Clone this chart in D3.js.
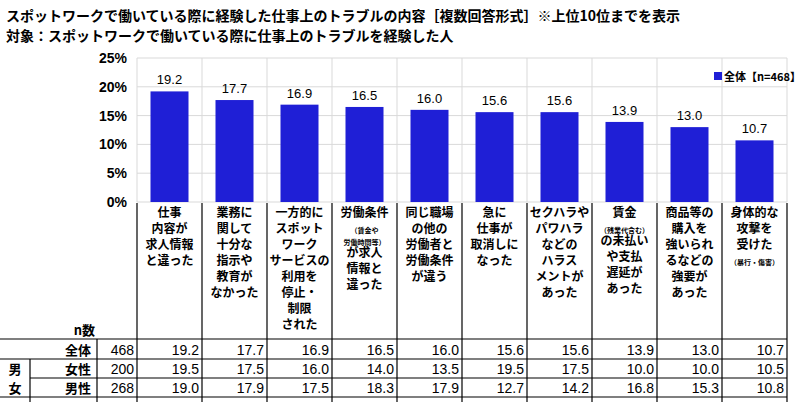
<!DOCTYPE html><html><head><meta charset="utf-8"><script src="https://d3js.org/d3.v7.min.js"></script>
<style>body{margin:0;background:#fff}text{font-family:"Noto Sans CJK JP",sans-serif;font-weight:bold}</style></head><body>
<script>
const categories=[["仕事","内容が","求人情報","と違った"],["業務に","関して","十分な","指示や","教育が","なかった"],["一方的に","スポット","ワーク","サービスの","利用を","停止・","制限","された"],["労働条件","(s)（賃金や","(s)労働時間等）","が求人","情報と","違った"],["同じ職場","の他の","労働者と","労働条件","が違う"],["急に","仕事が","取消しに","なった"],["セクハラや","パワハラ","などの","ハラス","メントが","あった"],["賃金","(s)（残業代含む）","の未払い","や支払","遅延が","あった"],["商品等の","購入を","強いられ","るなどの","強要が","あった"],["身体的な","攻撃を","受けた","(s)（暴行・傷害）"]];
const total=[19.2,17.7,16.9,16.5,16.0,15.6,15.6,13.9,13.0,10.7];
const female=[19.5,17.5,16.0,14.0,13.5,19.5,17.5,10.0,10.0,10.5];
const male=[19.0,17.9,17.5,18.3,17.9,12.7,14.2,16.8,15.3,10.8];
const rowLabels=["全体","女性","男性"], rowN=[468,200,268];
const yTicks=[0,5,10,15,20,25];
const svg=d3.select("body").append("svg").attr("width",800).attr("height",402);
svg.append("text").attr("x",6).attr("y",21).attr("font-size",14).text("スポットワークで働いている際に経験した仕事上のトラブルの内容［複数回答形式］※上位10位までを表示");
svg.append("text").attr("x",6).attr("y",41).attr("font-size",14).text("対象：スポットワークで働いている際に仕事上のトラブルを経験した人");
const x=d3.scaleBand().domain(d3.range(10)).range([137,787]);
const y=d3.scaleLinear().domain([0,25]).range([202,58]);
svg.append("g").selectAll("line").data(yTicks).join("line").attr("x1",137).attr("x2",787).attr("y1",d=>y(d)).attr("y2",d=>y(d)).attr("stroke","#d9d9d9");
svg.append("g").selectAll("line").data(d3.range(11)).join("line").attr("x1",i=>137+i*65).attr("x2",i=>137+i*65).attr("y1",58).attr("y2",202).attr("stroke","#d9d9d9");
svg.append("g").selectAll("text").data(yTicks).join("text").attr("x",127).attr("y",d=>y(d)+5).attr("text-anchor","end").attr("font-size",14).style("font-family","Liberation Sans, Arial").text(d=>d+"%");
svg.append("g").selectAll("rect").data(total).join("rect").attr("x",(d,i)=>x(i)+x.bandwidth()/2-19).attr("width",38).attr("y",d=>y(d)).attr("height",d=>y(0)-y(d)).attr("fill","#1f1fd6");
svg.append("g").selectAll("text").data(total).join("text").attr("x",(d,i)=>x(i)+x.bandwidth()/2).attr("y",d=>y(d)-7).attr("text-anchor","middle").attr("font-size",13).style("font-family","Liberation Sans, Arial").style("font-weight","normal").text(d=>d.toFixed(1));
svg.append("rect").attr("x",714).attr("y",72).attr("width",8).attr("height",8).attr("fill","#1f1fd6");
svg.append("text").attr("x",724).attr("y",81).attr("font-size",11).text("全体【n=468】");
const L=svg.append("g").attr("stroke","#000").attr("stroke-width",1.2);
const rowY=[339,359,378,397];
d3.range(11).forEach(i=>L.append("line").attr("x1",137+i*65).attr("x2",137+i*65).attr("y1",203).attr("y2",402));
L.append("line").attr("x1",97).attr("x2",97).attr("y1",339).attr("y2",402);
L.append("line").attr("x1",30).attr("x2",30).attr("y1",359).attr("y2",402);
L.append("line").attr("x1",0).attr("x2",787).attr("y1",339).attr("y2",339);
L.append("line").attr("x1",0).attr("x2",787).attr("y1",359).attr("y2",359);
L.append("line").attr("x1",30).attr("x2",787).attr("y1",378).attr("y2",378);
L.append("line").attr("x1",0).attr("x2",787).attr("y1",397).attr("y2",397);
categories.forEach((c,i)=>{let yy=217;const cx=x(i)+x.bandwidth()/2;
 c.forEach(s=>{const sm=s.startsWith("(s)");const t=sm?s.slice(3):s;
  svg.append("text").attr("x",cx).attr("y",yy).attr("text-anchor","middle").attr("font-size",sm?7:12).text(t);yy+=sm?12:16;});});
svg.append("text").attr("x",95).attr("y",335).attr("text-anchor","end").attr("font-size",13).text("n数");
const rows=[total,female,male];
rows.forEach((r,k)=>{const by=rowY[k+1]-4;
 svg.append("text").attr("x",78).attr("y",by).attr("text-anchor","middle").attr("font-size",13).text(rowLabels[k]);
 svg.append("text").attr("x",134).attr("y",by).attr("text-anchor","end").attr("font-size",14).style("font-family","Liberation Sans, Arial").style("font-weight","normal").text(rowN[k]);
 r.forEach((v,i)=>svg.append("text").attr("x",137+(i+1)*65-3).attr("y",by).attr("text-anchor","end").attr("font-size",14).style("font-family","Liberation Sans, Arial").style("font-weight","normal").text(v.toFixed(1)));});
svg.append("text").attr("x",15).attr("y",374).attr("text-anchor","middle").attr("font-size",13).text("男");
svg.append("text").attr("x",15).attr("y",393).attr("text-anchor","middle").attr("font-size",13).text("女");
</script></body></html>
